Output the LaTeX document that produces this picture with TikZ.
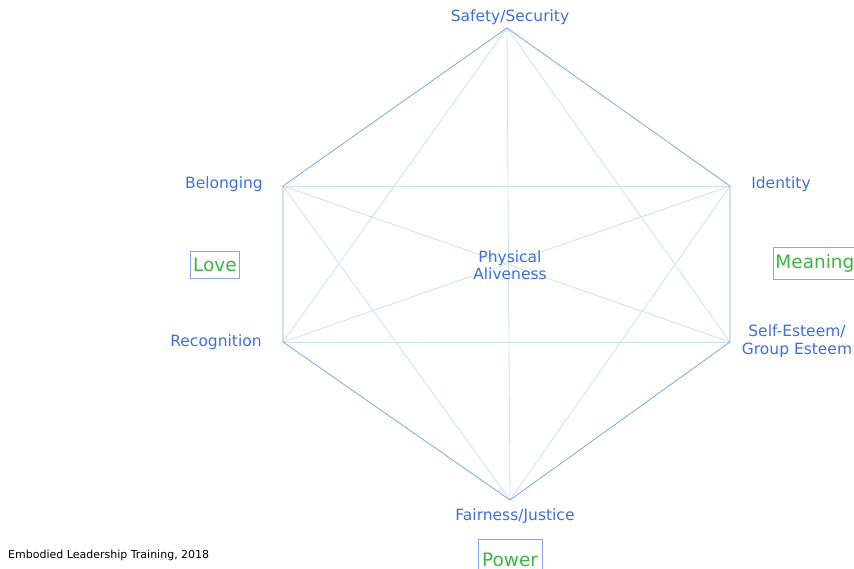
\documentclass[tikz,border=0pt]{standalone}
\usepackage{fontspec}
\setmainfont{DejaVu Sans}
\definecolor{outerline}{HTML}{74ACDC}
\definecolor{innerline}{HTML}{CBE0F3}
\definecolor{labelblue}{HTML}{3E6FD6}
\definecolor{labelgreen}{HTML}{3DB53D}
\definecolor{boxline}{HTML}{8AA6EA}
\begin{document}
\begin{tikzpicture}[x=1pt,y=-1pt,
  lbl/.style={text=labelblue,font=\fontsize{15.5}{17.5}\selectfont,inner sep=0pt,align=center},
  grp/.style={text=labelgreen,font=\fontsize{18.5}{20}\selectfont,draw=boxline,line width=0.8pt,inner xsep=3pt,inner ysep=7pt},
  outer/.style={draw=outerline,line width=0.8pt},
  inner/.style={draw=innerline,line width=0.8pt}]
\useasboundingbox (0,0) rectangle (854,569);
\coordinate (T) at (507,28);
\coordinate (BL) at (283,186);
\coordinate (ID) at (730,186);
\coordinate (RC) at (283,342);
\coordinate (SE) at (730,342);
\coordinate (B) at (510,500);
% inner diagonals
\draw[inner] (T) -- (RC);
\draw[inner] (T) -- (SE);
\draw[inner] (T) -- (B);
\draw[inner] (BL) -- (ID);
\draw[inner] (BL) -- (SE);
\draw[inner] (BL) -- (B);
\draw[inner] (ID) -- (RC);
\draw[inner] (ID) -- (B);
\draw[inner] (RC) -- (SE);
% outer hexagon
\draw[outer] (T) -- (BL) -- (RC) -- (B) -- (SE) -- (ID) -- cycle;
% labels
\node[lbl] (tSafety) at (510,17) {Safety/Security};
\node[lbl] (tBelong) at (224,184) {Belonging};
\node[lbl] (tIdent) at (781,184) {Identity};
\node[lbl] (tRecog) at (216,342) {Recognition};
\node[lbl] (tSelf) at (797,341) {Self-Esteem/\\Group Esteem};
\node[lbl] (tFair) at (515,516) {Fairness/Justice};
\node[lbl] (tPhys) at (510,265) {Physical\\Aliveness};
\node[grp] (gLove) at (215,265) {Love};
\node[grp,anchor=west,text width=84pt,align=left,inner xsep=2pt] (gMean) at (773,263) {Meaning};
\node[grp,minimum height=40pt,inner xsep=4pt,anchor=north] (gPower) at (510,539) {\raisebox{-4pt}{Power}};
\node[font=\fontsize{11}{13}\selectfont,anchor=west,inner sep=0pt] (credit) at (8,555) {Embodied Leadership Training, 2018};
\end{tikzpicture}
\end{document}
